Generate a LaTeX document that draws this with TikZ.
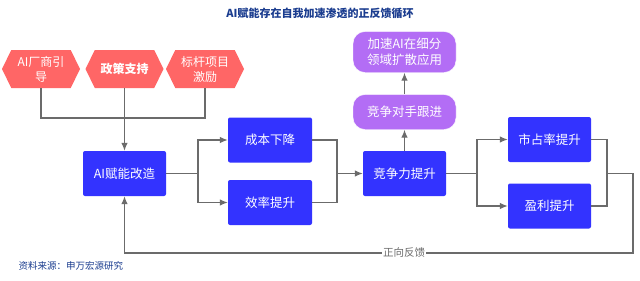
\documentclass[tikz,border=0pt]{standalone}
\usepackage{fontspec}
\setmainfont{Noto Sans CJK SC}
\usetikzlibrary{arrows.meta,shapes.symbols}
\definecolor{hexred}{HTML}{FF6666}
\definecolor{boxblue}{HTML}{3333FF}
\definecolor{boxpurple}{HTML}{B36DF5}
\definecolor{linegray}{HTML}{6B6B6B}
\definecolor{titleblue}{HTML}{1A3C8F}
\tikzset{
  hexbox/.style={shape=signal,signal to=west and east,signal pointer angle=128,fill=hexred,text=white,minimum width=78pt,minimum height=38pt,inner sep=1pt,align=center,font=\fontsize{12}{15}\selectfont},
  bluebox/.style={draw=none,fill=boxblue,text=white,rounded corners=2pt,minimum width=83pt,minimum height=45pt,font=\fontsize{12.5}{15}\selectfont},
  pillbox/.style={draw=white,fill=boxpurple,text=white,rounded corners=12pt,minimum width=103pt,minimum height=35pt,align=center,font=\fontsize{12.5}{16}\selectfont},
  conn/.style={draw=linegray,line width=1.2pt}
}
\begin{document}
\begin{tikzpicture}[x=1pt,y=-1pt,>={Latex[length=8pt,width=6.5pt]}]
  \useasboundingbox[fill=white] (0,0) rectangle (640,281);
  \node[font=\bfseries\fontsize{11}{13}\selectfont,text=titleblue] (title) at (320,13) {AI赋能存在自我加速渗透的正反馈循环};
  % 驱动因素
  \node[hexbox] (vendor) at (41,69) {AI厂商引\\导};
  \node[hexbox,font=\bfseries\fontsize{12}{15}\selectfont] (policy) at (124.5,69) {政策支持};
  \node[hexbox] (bench) at (205,69) {标杆项目\\激励};
  % 主流程
  \node[bluebox] (ai) at (124.5,173.5) {AI赋能改造};
  \node[bluebox,minimum width=84pt] (cost) at (270,140) {成本下降};
  \node[bluebox,minimum width=84pt] (eff) at (270,202.5) {效率提升};
  \node[bluebox] (comp) at (404.5,173.5) {竞争力提升};
  \node[pillbox] (rival) at (404.5,112) {竞争对手跟进};
  \node[pillbox,minimum height=41pt] (spread) at (404.5,52) {加速AI在细分\\领域扩散应用};
  \node[bluebox] (share) at (549.5,139.5) {市占率提升};
  \node[bluebox] (profit) at (549.5,206) {盈利提升};
  \node[font=\fontsize{9.5}{11}\selectfont,text=titleblue,anchor=west] (source) at (15,266) {资料来源：申万宏源研究};
  % 连线
  \coordinate (bus) at (124.5,118);
  \coordinate (split1) at (198,173.5);
  \coordinate (merge1) at (337,173.5);
  \coordinate (split2) at (477,173.5);
  \coordinate (merge2) at (607,173.5);
  \coordinate (fb) at (633,253);
  \draw[conn] (vendor.south) |- (bus) -| (bench.south);
  \draw[conn,->] (policy.south) -- (ai.north);
  \draw[conn] (ai.east) -- (split1);
  \draw[conn,->] (split1) |- (cost.west);
  \draw[conn,->] (split1) |- (eff.west);
  \draw[conn] (cost.east) -| (merge1);
  \draw[conn] (eff.east) -| (merge1);
  \draw[conn,->] (merge1) -- (comp.west);
  \draw[conn,->] (comp.north) -- (rival.south);
  \draw[conn,->] (rival.north) -- (spread.south);
  \draw[conn] (comp.east) -- (split2);
  \draw[conn,->] (split2) |- (share.west);
  \draw[conn,->] (split2) |- (profit.west);
  \draw[conn] (share.east) -| (merge2);
  \draw[conn] (profit.east) -| (merge2);
  \draw[conn,->] (merge2) -| (fb) -| node[pos=0.225,fill=white,inner sep=1pt,text=linegray,font=\fontsize{10.5}{12}\selectfont] (fblabel) {正向反馈} (ai.south);
\end{tikzpicture}
\end{document}
